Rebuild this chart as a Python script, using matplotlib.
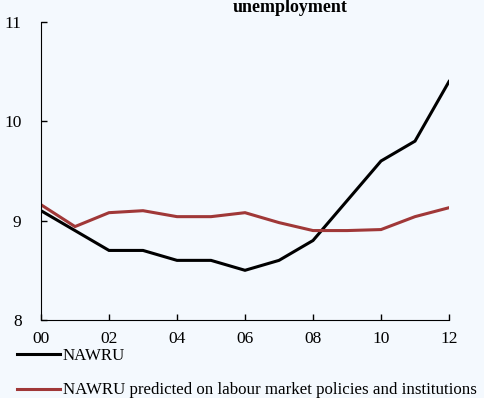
import matplotlib.pyplot as plt
from matplotlib.lines import Line2D

years = list(range(13))
year_labels = ['00', '02', '04', '06', '08', '10', '12']
nawru = [9.1, 8.9, 8.7, 8.7, 8.6, 8.6, 8.5, 8.6, 8.8, 9.2, 9.6, 9.8, 10.4]
nawru_pred = [9.16, 8.94, 9.08, 9.1, 9.04, 9.04, 9.08, 8.98, 8.9, 8.9, 8.91, 9.04, 9.13]

bg = '#f4f9fe'
red = '#a03838'

plt.rcParams['font.family'] = ['Liberation Serif', 'DejaVu Serif']
plt.rcParams['font.size'] = 12.5

fig = plt.figure(figsize=(4.84, 3.98), dpi=100, facecolor=bg)
ax = fig.add_axes([0.0847, 0.196, 0.843, 0.749], facecolor=bg)

ax.plot(years, nawru, color='black', lw=2.2, solid_joinstyle='miter')
ax.plot(years, nawru_pred, color=red, lw=2.2, solid_joinstyle='miter')

ax.set_xlim(0, 12)
ax.set_ylim(8, 11)
ax.set_xticks(range(0, 13, 2))
ax.set_xticklabels(year_labels)
ax.set_yticks([8, 9, 10, 11])
ax.tick_params(axis='x', direction='in', length=4, width=1, pad=8, colors='black')
ax.tick_params(axis='y', direction='in', length=4, width=1, pad=14, colors='black')
for s in ['top', 'right']:
    ax.spines[s].set_visible(False)

fig.text(0.6, 1.003, 'unemployment', ha='center', va='top', fontweight='bold', fontsize=13)

handles = [Line2D([], [], color='black', lw=2.2), Line2D([], [], color=red, lw=2.2)]
fig.legend(handles, ['NAWRU', 'NAWRU predicted on labour market policies and institutions'],
           loc='upper left', bbox_to_anchor=(0.035, 0.126), frameon=False,
           handlelength=2.55, handletextpad=0.15, labelspacing=1.1, borderaxespad=0,
           borderpad=0, fontsize=12.2)

fig.savefig('out.png', dpi=100, facecolor=bg)
